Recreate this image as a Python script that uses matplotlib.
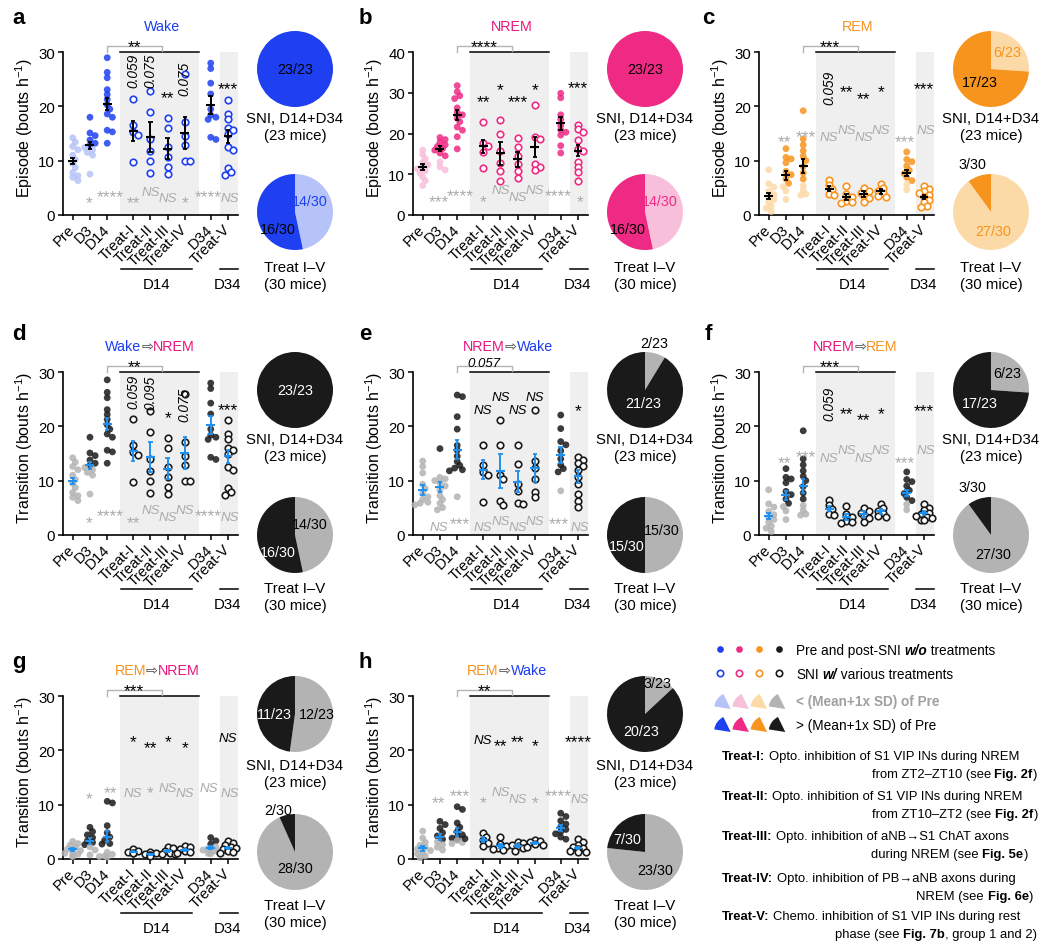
import numpy as np
import matplotlib
matplotlib.use("Agg")
import matplotlib.pyplot as plt
import matplotlib.transforms as mtransforms
from matplotlib.patches import Wedge

# ======================= DATA =======================
GROUPS = ["Pre", "D3", "D14", "Treat-I", "Treat-II", "Treat-III", "Treat-IV", "D34", "Treat-V"]
XPOS = [0, 1, 2, 3.5, 4.5, 5.5, 6.5, 8, 9]
TREAT_IDX = [3, 4, 5, 6, 8]

# a  Wake episodes
wake_pts = [[14.2, 13.4, 12.6, 12.0, 11.0, 10.2, 9.5, 8.7, 7.8, 7.2, 6.9, 6.3],
            [18.0, 15.1, 14.6, 13.8, 13.2, 12.8, 12.4, 12.0, 11.5, 11.0, 7.5],
            [29.0, 26.3, 25.3, 23.1, 22.2, 21.3, 20.3, 19.5, 18.6, 18.0, 15.6, 15.3, 13.2],
            [21.3, 16.5, 15.2, 14.8, 9.7],
            [22.8, 18.9, 14.0, 11.8, 10.0, 7.7],
            [17.8, 16.0, 12.5, 10.6, 8.9, 7.6],
            [25.9, 17.1, 14.6, 12.8, 10.0, 10.0],
            [28.0, 27.0, 24.3, 22.3, 19.5, 18.4, 18.0, 17.6, 14.3, 13.9],
            [21.2, 18.6, 17.6, 16.1, 15.6, 14.9, 12.5, 11.9, 8.7, 7.9, 7.3]]
wake_mean = [9.9, 12.8, 20.5, 15.5, 14.3, 12.2, 15.1, 20.3, 14.5]
wake_sem = [0.6, 0.7, 1.1, 1.8, 2.8, 2.0, 3.0, 1.7, 1.2]
wake_pie_sni = [0, 23]
wake_pie_treat = [14, 16]
wake_top = [None, None, None, "0.059", "0.075", "**", "0.075", None, "***"]
wake_bot = [None, "*", "****", "**", "NS", "NS", "*", "****", "NS"]
wake_bracket = "**"

# b  NREM episodes
nrem_pts = [[15.9, 14.8, 13.8, 12.9, 12.3, 11.8, 11.3, 10.8, 10.2, 9.3, 8.4, 7.2],
            [19.0, 18.5, 17.8, 17.2, 16.8, 16.3, 15.9, 15.2, 14.5, 13.0, 11.8, 11.0],
            [31.8, 30.3, 29.3, 28.6, 26.3, 25.2, 24.6, 23.8, 22.9, 21.6, 20.8, 19.2, 16.2],
            [22.8, 17.6, 16.8, 15.4, 11.5],
            [23.4, 19.9, 15.8, 12.7, 10.7, 8.4],
            [18.9, 16.6, 14.4, 12.6, 10.8, 9.0],
            [26.9, 19.2, 18.6, 12.4, 11.7, 11.1],
            [29.9, 28.8, 24.6, 23.5, 22.0, 20.9, 20.3, 19.6, 17.0, 15.2],
            [22.2, 21.1, 20.3, 18.4, 16.2, 15.6, 13.0, 11.7, 10.5, 8.4]]
nrem_mean = [11.7, 16.2, 24.6, 16.8, 15.1, 13.6, 16.7, 22.5, 15.8]
nrem_sem = [0.75, 0.6, 1.3, 1.6, 2.9, 1.9, 2.4, 1.6, 1.4]
nrem_pie_sni = [0, 23]
nrem_pie_treat = [14, 16]
nrem_top = [None, None, None, "**", "*", "***", "*", None, "***"]
nrem_bot = [None, "***", "****", "*", "NS", "NS", "NS", "****", "*"]
nrem_bracket = "****"

# c  REM episodes
rem_pts = [[8.3, 5.7, 5.1, 4.3, 3.7, 3.2, 2.8, 2.3, 1.6, 1.2, 0.6],
           [12.2, 10.6, 10.3, 9.6, 8.0, 7.4, 6.6, 5.8, 5.2, 4.4, 2.8],
           [19.2, 14.0, 12.9, 11.8, 10.8, 10.0, 8.9, 7.7, 6.6, 5.4, 4.5, 3.8, 3.6],
           [6.4, 5.4, 4.7, 3.8, 3.6],
           [5.3, 3.8, 3.2, 2.6, 2.3, 2.2],
           [4.9, 4.4, 4.1, 3.4, 3.0, 2.3],
           [5.7, 5.0, 4.4, 4.0, 3.5, 3.2],
           [11.6, 10.2, 9.8, 9.0, 8.2, 7.6, 6.9, 6.3, 5.6, 4.6],
           [5.3, 4.8, 4.3, 4.0, 3.7, 3.2, 2.8, 2.3, 1.6, 1.4]]
rem_mean = [3.5, 7.3, 9.0, 4.8, 3.3, 3.8, 4.3, 7.7, 3.3]
rem_sem = [0.6, 0.8, 1.3, 0.5, 0.5, 0.5, 0.4, 0.6, 0.4]
rem_pie_sni = [6, 17]
rem_pie_treat = [27, 3]
rem_top = [None, None, None, "0.059", "**", "**", "*", None, "***"]
rem_bot = [None, "**", "***", "NS", "NS", "NS", "NS", "***", "NS"]
rem_bracket = "***"

# d  Wake -> NREM transitions
w2n_pts = [[14.2, 13.4, 12.6, 12.0, 11.0, 10.2, 9.5, 8.7, 7.8, 7.2, 6.9, 6.3],
           [18.0, 15.1, 14.6, 13.8, 13.2, 12.8, 12.4, 12.0, 11.5, 11.0, 7.5],
           [28.6, 26.3, 25.3, 23.1, 22.2, 21.3, 20.3, 19.5, 18.6, 18.0, 15.6, 15.3, 13.2],
           [21.3, 16.5, 15.2, 14.8, 9.7],
           [22.8, 18.9, 14.0, 11.8, 10.0, 7.7],
           [17.8, 16.0, 12.5, 10.6, 8.9, 7.6],
           [25.9, 17.1, 14.6, 12.8, 10.0, 10.0],
           [28.0, 27.0, 24.3, 22.3, 19.5, 18.4, 18.0, 17.6, 14.3, 13.9],
           [21.2, 18.6, 17.6, 16.1, 15.6, 14.9, 12.5, 11.9, 8.7, 7.9, 7.3]]
w2n_mean = [9.9, 12.8, 20.5, 15.5, 14.3, 12.2, 15.1, 20.3, 14.5]
w2n_sem = [0.6, 0.7, 1.1, 1.8, 2.8, 2.0, 3.0, 1.7, 1.2]
w2n_pie_sni = [0, 23]
w2n_pie_treat = [14, 16]
w2n_top = [None, None, None, "0.059", "0.095", "*", "0.075", None, "***"]
w2n_bot = [None, "*", "****", "**", "NS", "NS", "NS", "****", "NS"]
w2n_bracket = "**"

# e  NREM -> Wake transitions
n2w_pts = [[13.6, 12.6, 11.4, 9.3, 8.5, 7.6, 7.0, 6.5, 6.0, 5.8, 5.5],
           [15.9, 10.6, 10.3, 10.0, 9.6, 9.0, 8.2, 7.2, 6.5, 5.8, 5.0, 4.6],
           [25.8, 25.5, 21.8, 19.5, 16.5, 15.6, 14.5, 13.5, 12.8, 12.3, 12.0, 11.8, 7.0],
           [16.5, 12.8, 11.5, 11.0, 6.0],
           [21.1, 16.6, 11.0, 10.2, 6.2, 5.5],
           [16.5, 13.1, 9.4, 8.1, 5.9, 5.6],
           [23.0, 13.6, 12.4, 10.2, 7.8, 6.9],
           [22.1, 19.6, 17.2, 16.6, 15.5, 14.0, 12.9, 12.2, 11.6, 8.1],
           [14.4, 13.8, 13.2, 12.6, 12.0, 10.6, 9.3, 7.6, 6.3, 5.2]]
n2w_mean = [8.3, 8.8, 15.7, 12.0, 11.8, 9.8, 12.3, 14.7, 10.8]
n2w_sem = [0.9, 0.9, 1.8, 1.8, 3.2, 2.0, 2.6, 1.5, 1.2]
n2w_pie_sni = [2, 21]
n2w_pie_treat = [15, 15]
n2w_top = [None, None, None, "NS", "NS", "NS", "NS", None, "*"]
n2w_bot = [None, "NS", "***", "NS", "NS", "NS", "NS", "***", "NS"]
n2w_bracket = "0.057"

# f  NREM -> REM transitions
n2r_pts = [[8.3, 5.7, 5.1, 4.3, 3.7, 3.2, 2.8, 2.3, 1.6, 1.2, 0.6],
           [12.2, 10.6, 10.3, 9.6, 8.0, 7.4, 6.6, 5.8, 5.2, 4.4, 2.8],
           [19.2, 14.0, 12.9, 11.8, 10.8, 10.0, 8.9, 7.7, 6.6, 5.4, 4.5, 3.8, 3.6],
           [6.4, 5.4, 4.7, 3.8, 3.6],
           [5.3, 3.8, 3.2, 2.6, 2.3, 2.2],
           [4.9, 4.4, 4.1, 3.4, 3.0, 2.3],
           [5.7, 5.0, 4.4, 4.0, 3.5, 3.2],
           [11.6, 10.2, 9.8, 9.0, 8.2, 7.6, 6.9, 6.3, 5.6, 4.6],
           [5.6, 5.0, 4.5, 4.1, 3.8, 3.5, 3.2, 3.0, 2.8, 2.7]]
n2r_mean = [3.5, 7.3, 9.0, 4.8, 3.3, 3.8, 4.3, 7.7, 4.0]
n2r_sem = [0.6, 0.8, 1.3, 0.5, 0.5, 0.5, 0.4, 0.6, 0.3]
n2r_pie_sni = [6, 17]
n2r_pie_treat = [27, 3]
n2r_top = [None, None, None, "0.059", "**", "**", "*", None, "***"]
n2r_bot = [None, "**", "***", "NS", "NS", "NS", "NS", "***", "NS"]
n2r_bracket = "***"

# g  REM -> NREM transitions
r2n_pts = [[3.2, 2.8, 2.5, 2.1, 1.8, 1.5, 1.2, 1.0, 0.8, 0.6, 0.4],
           [5.8, 5.0, 4.4, 3.9, 3.3, 3.0, 2.6, 2.2, 1.6, 0.7],
           [10.6, 10.3, 6.1, 4.8, 4.0, 3.4, 2.8, 2.7, 1.2, 0.8, 0.5, 0.4, 0.3],
           [1.7, 1.5, 1.3, 1.1, 1.0],
           [1.2, 1.0, 0.9, 0.7, 0.6, 0.5],
           [2.2, 1.9, 1.5, 1.1, 0.9, 0.8],
           [2.4, 2.1, 1.8, 1.4, 1.2, 1.0],
           [3.9, 3.3, 2.7, 2.2, 1.9, 1.6, 1.4, 1.2, 1.0, 0.9],
           [3.3, 2.9, 2.5, 2.2, 2.0, 1.8, 1.6, 1.4, 1.2, 1.0]]
r2n_mean = [1.7, 3.3, 4.1, 1.3, 0.8, 1.4, 1.6, 2.0, 2.0]
r2n_sem = [0.3, 0.5, 1.0, 0.15, 0.12, 0.25, 0.25, 0.3, 0.25]
r2n_pie_sni = [12, 11]
r2n_pie_treat = [28, 2]
r2n_top = [None, None, None, "*", "**", "*", "*", None, "NS"]
r2n_bot = [None, "*", "**", "NS", "*", "NS", "NS", "NS", "NS"]
r2n_bracket = "***"

# h  REM -> Wake transitions
r2w_pts = [[5.1, 3.8, 3.0, 2.5, 2.1, 1.8, 1.5, 1.2, 0.9, 0.5, 0.2],
           [6.9, 6.3, 5.6, 4.8, 4.2, 3.6, 3.1, 2.6, 2.1, 1.6],
           [9.6, 9.1, 6.6, 5.8, 5.0, 4.4, 4.0, 3.8, 3.6, 3.4, 3.0, 2.8, 3.7],
           [4.8, 4.1, 3.4, 2.9, 2.4],
           [4.0, 2.8, 2.3, 2.0, 1.7, 1.6],
           [3.1, 2.9, 2.6, 2.3, 1.9, 1.5],
           [3.4, 3.2, 3.0, 2.8, 2.5, 2.2],
           [8.4, 7.8, 7.0, 6.4, 5.9, 5.4, 5.0, 4.6, 4.0, 3.6],
           [3.6, 3.0, 2.5, 2.2, 2.0, 1.8, 1.7, 1.5, 1.3, 1.2]]
r2w_mean = [1.9, 4.0, 4.9, 3.5, 2.4, 2.4, 2.9, 5.7, 2.0]
r2w_sem = [0.4, 0.5, 0.7, 0.45, 0.4, 0.3, 0.2, 0.5, 0.25]
r2w_pie_sni = [3, 20]
r2w_pie_treat = [23, 7]
r2w_top = [None, None, None, "NS", "**", "**", "*", None, "****"]
r2w_bot = [None, "**", "***", "*", "NS", "NS", "*", "****", "NS"]
r2w_bracket = "**"

# ======================= STYLE / LAYOUT =======================
W, H = 1050, 953
FAM = ['Liberation Sans', 'DejaVu Sans']
plt.rcParams['font.family'] = FAM
plt.rcParams['mathtext.fontset'] = 'custom'
plt.rcParams['mathtext.rm'] = 'Liberation Sans'
plt.rcParams['mathtext.it'] = 'Liberation Sans:italic'
plt.rcParams['mathtext.bf'] = 'Liberation Sans:bold'

WAKE_D, WAKE_L, WAKE_T = '#1e40f0', '#b6c3f8', '#1a3cf5'
NREM_D, NREM_L, NREM_T = '#ee2a84', '#f8bfdb', '#e8177f'
REM_D, REM_L, REM_T = '#f7941d', '#fcdaa8', '#f7931e'
BLK_D, BLK_L = '#1a1a1a', '#b3b3b3'
EB_BLUE = '#2090ee'
SHADE = '#efefef'
GRAY_TXT = '#ababab'
ARROW_C = '#444444'

COLX = [0, 350, 696]
ROWY = [0, 320, 644]
AX_L, AX_T, AX_W, AX_H = 62.7, 53.3, 175.3, 162.4
XMIN, XMAX = -0.58, 9.58
PIE_X, PIE_R = 295, 38
FS_TICK, FS_YLAB, FS_CAP = 10.8, 11.5, 10.8

fig = plt.figure(figsize=(W / 100, H / 100), dpi=100)
renderer = fig.canvas.get_renderer()
ov = fig.add_axes([0, 0, 1, 1])
ov.set_xlim(0, W)
ov.set_ylim(H, 0)
ov.axis('off')
ov.set_zorder(20)


def add_ax_px(x, y, w, h):
    return fig.add_axes([x / W, 1 - (y + h) / H, w / W, h / H])


def text_w(s, **kw):
    t = ov.text(0, 0, s, **kw)
    w = t.get_window_extent(renderer).width
    t.remove()
    return w


def seq_text(x, y, pieces, ha='left', size=9.0):
    """pieces: list of (string, kwargs). y is visual centre (cap height) in px."""
    items = []
    for s, kw in pieces:
        st = s.rstrip(' ')
        ntr = len(s) - len(st)
        kk = dict(fontsize=size, family=FAM)
        kk.update(kw)
        w = text_w(st, **kk) if st else 0
        sp = text_w('a a', **kk) - text_w('aa', **kk) if ntr else 0
        items.append((st, kk, w, ntr * sp))
    total = sum(w + g for _, _, w, g in items)
    cur = x if ha == 'left' else (x - total if ha == 'right' else x - total / 2)
    base = y + 0.36 * size * 100 / 72
    for st, kk, w, g in items:
        ov.text(cur, base, st, ha='left', va='baseline', **kk)
        cur += w + g


def ann(ax, x, y, s, color='black', rot=False):
    stars = set(s) == {'*'}
    if rot:
        ax.text(x, y, s, rotation=90, ha='center', va='center', style='italic',
                fontsize=9.8, color=color, clip_on=False, zorder=6)
        return
    size = 12.5 if stars else 9.5
    k = 0.58 if stars else 0.36
    tr = mtransforms.offset_copy(ax.transData, fig=fig, x=0, y=-k * size, units='points')
    style = 'normal' if stars else 'italic'
    ax.text(x, y, s, transform=tr, ha='center', va='baseline', fontsize=size,
            style=style, color=color, clip_on=False, zorder=6)


def swarm(vals, ymax, d=6.2):
    ys = np.asarray(vals, float) * (AX_H / ymax)
    order = np.argsort(-ys)
    placed = []
    offs = np.zeros(len(ys))
    for i in order:
        best = 0.0
        for k in [0, 1, -1, 2, -2, 3, -3]:
            xo = k * d * 0.42
            if all((xo - px) ** 2 + (ys[i] - py) ** 2 >= (0.7 * d) ** 2 for px, py in placed):
                best = xo
                break
        placed.append((best, ys[i]))
        offs[i] = best
    return offs / (AX_W / (XMAX - XMIN))


def draw_panel(sp):
    ox, oy = sp['origin']
    ymax = sp['ymax']
    dark, light = sp['dark'], sp['light']
    ax = add_ax_px(ox + AX_L, oy + AX_T, AX_W, AX_H)
    ax.set_xlim(XMIN, XMAX)
    ax.set_ylim(0, ymax)
    ax.axvspan(2.75, 7.3, color=SHADE, lw=0, zorder=0)
    ax.axvspan(8.53, XMAX, color=SHADE, lw=0, zorder=0)
    for s in ['top', 'right']:
        ax.spines[s].set_visible(False)
    for s in ['left', 'bottom']:
        ax.spines[s].set_linewidth(1.2)
    ax.set_yticks(range(0, ymax + 1, 10))
    ax.set_xticks(XPOS)
    ax.set_xticklabels(GROUPS, rotation=45, ha='right', va='center', rotation_mode='anchor')
    ax.tick_params(axis='both', length=3.5, width=1.1, labelsize=FS_TICK)
    ax.tick_params(axis='x', pad=5)
    ax.tick_params(axis='y', pad=2)
    ax.patch.set_alpha(0)

    pts = sp['pts']
    pre = np.asarray(pts[0])
    thr = pre.mean() + pre.std(ddof=1)
    for gi, vals in enumerate(pts):
        xs = XPOS[gi] + swarm(vals, ymax)
        if gi in TREAT_IDX:
            ax.scatter(xs, vals, s=22, facecolor='white', edgecolor=dark, linewidth=1.2,
                       zorder=3, clip_on=False)
        else:
            if gi == 0:
                cols = [light] * len(vals)
            else:
                cols = [dark if v > thr else light for v in vals]
            ax.scatter(xs, vals, s=24, c=cols, alpha=0.85, linewidth=0, zorder=3, clip_on=False)
    ec = sp['ebar']
    for gi in range(len(pts)):
        x, m, s = XPOS[gi], sp['mean'][gi], sp['sem'][gi]
        ax.vlines(x, m - s, m + s, color=ec, lw=1.4, zorder=5)
        ax.hlines(m, x - 0.26, x + 0.26, color=ec, lw=1.5, zorder=5)
        ax.hlines([m - s, m + s], x - 0.13, x + 0.13, color=ec, lw=1.3, zorder=5)

    upp = ymax / AX_H
    ax.plot([2.75, 7.3], [ymax + 0.6 * upp] * 2, color='black', lw=1.1, clip_on=False, zorder=6)
    ax.plot([2, 2, 5.15, 5.15], [ymax + 0.3 * upp, ymax + 6 * upp, ymax + 6 * upp, ymax + 1.5 * upp],
            color='#b3b3b3', lw=1.0, clip_on=False, zorder=6)
    ann(ax, 3.57, ymax + 11.5 * upp, sp['bracket'])

    for gi, (lab, yy) in enumerate(zip(sp['top'], sp['top_y'])):
        if lab is None:
            continue
        ann(ax, XPOS[gi], yy, lab, rot=lab[0].isdigit())
    for gi, (lab, yy) in enumerate(zip(sp['bot'], sp['bot_y'])):
        if lab is None:
            continue
        dx = {1: -0.06, 2: 0.17, 7: -0.12, 8: 0.12}.get(gi, 0)
        ann(ax, XPOS[gi] + dx, yy, lab, color=GRAY_TXT)

    # y label, title, letter
    ov.text(ox + 24, oy + 128, sp['ylabel'], rotation=90, ha='center', va='center', fontsize=FS_YLAB)
    seq_text(ox + sp['title_x'], oy + 26, [(t, dict(color=c)) for t, c in sp['title']],
             ha='center', size=10.3)
    ov.text(ox + sp['letter_x'], oy + sp['letter_y'], sp['letter'], fontsize=16, fontweight='bold',
            ha='center', va='center')

    # group underlines
    def ux(u):
        return ox + AX_L + (u - XMIN) / (XMAX - XMIN) * AX_W
    ov.plot([ux(2.8), ux(6.9)], [oy + 270] * 2, color='black', lw=1.1, clip_on=False)
    ov.plot([ux(8.53), ux(9.56)], [oy + 270] * 2, color='black', lw=1.1, clip_on=False)
    seq_text(ux(4.85), oy + 284, [("D14", {})], ha='center', size=FS_CAP)
    seq_text(ux(9.0), oy + 284, [("D34", {})], ha='center', size=FS_CAP)

    # pies
    for counts, cy, labs, cap1, cap2, capy in [
            (sp['pie1'], sp['pie_y'][0], sp['pie_lab'][0], "SNI, D14+D34", "(23 mice)", sp['cap_y'][0]),
            (sp['pie2'], sp['pie_y'][1], sp['pie_lab'][1], "Treat I\u2013V", "(30 mice)", sp['cap_y'][1])]:
        pax = add_ax_px(ox + PIE_X - PIE_R, oy + cy - PIE_R, 2 * PIE_R, 2 * PIE_R)
        vals = [max(c, 1e-9) for c in counts]
        pax.pie(vals, colors=[light, dark], startangle=90, counterclock=False, radius=1,
                wedgeprops=dict(linewidth=0))
        pax.set_xlim(-1, 1)
        pax.set_ylim(-1, 1)
        pax.axis('off')
        tot = sum(counts)
        for idx, lx, ly, cc in labs:
            col = {'k': 'black', 'w': 'white', 'D': dark}[cc]
            pax.text(lx, ly, f"{counts[idx]}/{tot}", ha='center', va='center', fontsize=10.3,
                     color=col, clip_on=False)
        seq_text(ox + PIE_X, oy + capy, [(cap1, {})], ha='center', size=FS_CAP)
        seq_text(ox + PIE_X, oy + capy + 17, [(cap2, {})], ha='center', size=FS_CAP)


EP = "Episode (bouts h$^{-1}$)"
TR = "Transition (bouts h$^{-1}$)"
AR = '\u21e8'

specs = [
    dict(letter='a', origin=(COLX[0], ROWY[0]), ymax=30, pts=wake_pts, mean=wake_mean, sem=wake_sem,
         dark=WAKE_D, light=WAKE_L, ebar='black', title=[("Wake", WAKE_T)], ylabel=EP,
         top=wake_top, top_y=[None, None, None, 26.7, 26.8, 22.6, 25.2, None, 24.3],
         bot=wake_bot, bot_y=[None, 3.2, 4.3, 3.2, 4.6, 3.5, 3.2, 4.3, 3.5], bracket=wake_bracket,
         pie1=wake_pie_sni, pie2=wake_pie_treat,
         pie_lab=([(1, 0, 0, 'k')], [(0, 0.38, 0.3, 'D'), (1, -0.45, -0.45, 'k')])),
    dict(letter='b', origin=(COLX[1], ROWY[0]), ymax=40, pts=nrem_pts, mean=nrem_mean, sem=nrem_sem,
         dark=NREM_D, light=NREM_L, ebar='black', title=[("NREM", NREM_T)], ylabel=EP,
         top=nrem_top, top_y=[None, None, None, 29.3, 32.2, 29.3, 32.2, None, 32.6],
         bot=nrem_bot, bot_y=[None, 4.6, 6.0, 4.6, 6.6, 4.8, 6.6, 6.0, 4.6], bracket=nrem_bracket,
         pie1=nrem_pie_sni, pie2=nrem_pie_treat,
         pie_lab=([(1, 0, 0, 'k')], [(0, 0.38, 0.3, 'D'), (1, -0.45, -0.45, 'k')])),
    dict(letter='c', origin=(COLX[2], ROWY[0]), ymax=30, pts=rem_pts, mean=rem_mean, sem=rem_sem,
         dark=REM_D, light=REM_L, ebar='black', title=[("REM", REM_T)], ylabel=EP,
         top=rem_top, top_y=[None, None, None, 23.7, 23.7, 22.4, 23.7, None, 24.3],
         bot=rem_bot, bot_y=[None, 14.5, 15.5, 14.6, 16.0, 14.6, 16.0, 14.6, 16.0], bracket=rem_bracket,
         pie1=rem_pie_sni, pie2=rem_pie_treat,
         pie_lab=([(0, 0.42, 0.45, 'D'), (1, -0.3, -0.35, 'k')], [(1, -0.5, 1.27, 'k'), (0, 0.05, -0.5, 'D')])),
    dict(letter='d', origin=(COLX[0], ROWY[1]), ymax=30, pts=w2n_pts, mean=w2n_mean, sem=w2n_sem,
         dark=BLK_D, light=BLK_L, ebar=EB_BLUE, title=[("Wake", WAKE_T), (AR, ARROW_C), ("NREM", NREM_T)],
         ylabel=TR, top=w2n_top, top_y=[None, None, None, 26.6, 26.3, 22.6, 24.2, None, 24.2],
         bot=w2n_bot, bot_y=[None, 3.3, 4.5, 3.3, 4.8, 3.6, 4.8, 4.5, 3.6], bracket=w2n_bracket,
         pie1=w2n_pie_sni, pie2=w2n_pie_treat,
         pie_lab=([(1, 0, 0, 'w')], [(0, 0.38, 0.3, 'k'), (1, -0.45, -0.45, 'w')])),
    dict(letter='e', origin=(COLX[1], ROWY[1]), ymax=30, pts=n2w_pts, mean=n2w_mean, sem=n2w_sem,
         dark=BLK_D, light=BLK_L, ebar=EB_BLUE, title=[("NREM", NREM_T), (AR, ARROW_C), ("Wake", WAKE_T)],
         ylabel=TR, top=n2w_top, top_y=[None, None, None, 23.3, 25.8, 23.3, 25.8, None, 23.9],
         bot=n2w_bot, bot_y=[None, 1.8, 3.1, 1.8, 2.9, 1.8, 2.9, 3.1, 1.8], bracket=n2w_bracket,
         pie1=n2w_pie_sni, pie2=n2w_pie_treat,
         pie_lab=([(0, 0.25, 1.24, 'k'), (1, -0.05, -0.35, 'w')], [(0, 0.45, 0.12, 'k'), (1, -0.47, -0.3, 'w')])),
    dict(letter='f', origin=(COLX[2], ROWY[1]), ymax=30, pts=n2r_pts, mean=n2r_mean, sem=n2r_sem,
         dark=BLK_D, light=BLK_L, ebar=EB_BLUE, title=[("NREM", NREM_T), (AR, ARROW_C), ("REM", REM_T)],
         ylabel=TR, top=n2r_top, top_y=[None, None, None, 24.3, 23.4, 22.3, 23.4, None, 24.0],
         bot=n2r_bot, bot_y=[None, 14.3, 15.4, 14.4, 15.9, 14.4, 15.9, 14.4, 15.9], bracket=n2r_bracket,
         pie1=n2r_pie_sni, pie2=n2r_pie_treat,
         pie_lab=([(0, 0.42, 0.45, 'k'), (1, -0.3, -0.35, 'w')], [(1, -0.5, 1.27, 'k'), (0, 0.05, -0.5, 'k')])),
    dict(letter='g', origin=(COLX[0], ROWY[2]), ymax=30, pts=r2n_pts, mean=r2n_mean, sem=r2n_sem,
         dark=BLK_D, light=BLK_L, ebar=EB_BLUE, title=[("REM", REM_T), (AR, ARROW_C), ("NREM", NREM_T)],
         ylabel=TR, top=r2n_top, top_y=[None, None, None, 22.6, 21.6, 22.6, 21.6, None, 22.7],
         bot=r2n_bot, bot_y=[None, 12.1, 13.3, 12.4, 13.3, 13.4, 12.4, 13.4, 12.4], bracket=r2n_bracket,
         pie1=r2n_pie_sni, pie2=r2n_pie_treat,
         pie_lab=([(1, -0.55, 0.0, 'w'), (0, 0.58, 0.0, 'k')], [(1, -0.45, 1.1, 'k'), (0, 0.0, -0.42, 'k')])),
    dict(letter='h', origin=(COLX[1], ROWY[2]), ymax=30, pts=r2w_pts, mean=r2w_mean, sem=r2w_sem,
         dark=BLK_D, light=BLK_L, ebar=EB_BLUE, title=[("REM", REM_T), (AR, ARROW_C), ("Wake", WAKE_T)],
         ylabel=TR, top=r2w_top, top_y=[None, None, None, 22.3, 22.0, 22.6, 22.0, None, 22.6],
         bot=r2w_bot, bot_y=[None, 11.4, 12.6, 11.4, 12.7, 11.4, 11.4, 12.6, 11.4], bracket=r2w_bracket,
         pie1=r2w_pie_sni, pie2=r2w_pie_treat,
         pie_lab=([(0, 0.32, 0.82, 'k'), (1, -0.1, -0.45, 'w')], [(1, -0.47, 0.35, 'w'), (0, 0.26, -0.48, 'k')])),
]
TITLE_X = {'a': 162, 'b': 162, 'c': 162, 'd': 150, 'e': 158, 'f': 159, 'g': 157, 'h': 157}
LETTER_XY = {'a': (19, 19), 'b': (15, 19), 'c': (12, 19), 'd': (19, 15), 'e': (15, 15), 'f': (12, 15),
             'g': (19, 19), 'h': (15, 19)}
PIE_Y = [(70, 213), (71, 216), (71, 209)]
CAP_Y = [(118, 267), (119, 268), (121, 261)]
for sp in specs:
    r = ROWY.index(sp['origin'][1])
    sp['title_x'] = TITLE_X[sp['letter']]
    sp['letter_x'], sp['letter_y'] = LETTER_XY[sp['letter']]
    sp['pie_y'] = PIE_Y[r]
    sp['cap_y'] = CAP_Y[r]
    draw_panel(sp)

# ======================= LEGEND =======================
LX = [719.5, 739.2, 758.8, 778.5]
LEG_D = [WAKE_D, NREM_D, REM_D, BLK_D]
LEG_L = [WAKE_L, NREM_L, REM_L, BLK_L]
for x, c in zip(LX, LEG_D):
    ov.plot(x, 650, 'o', ms=4.8, color=c, mew=0, clip_on=False)
    ov.plot(x, 674, 'o', ms=4.6, mfc='white', mec=c, mew=1.2, clip_on=False)
seq_text(796, 650, [("Pre and post-SNI ", {}), ("w/o", dict(fontweight='bold', style='italic')),
                    (" treatments", {})], size=9.8)
seq_text(796, 674, [("SNI ", {}), ("w/", dict(fontweight='bold', style='italic')),
                    (" various treatments", {})], size=9.8)
for i in range(4):
    tx = 730.7 + 18.2 * i
    ov.add_patch(Wedge((tx, 710), 16.7, -171, -116, color=LEG_L[i], lw=0, clip_on=False))
    ov.add_patch(Wedge((tx, 733), 16.7, -171, -116, color=LEG_D[i], lw=0, clip_on=False))
seq_text(796, 701, [("< (Mean+1x SD) of Pre", dict(color='#a0a0a0', fontweight='bold'))], size=9.8)
seq_text(796, 725, [("> (Mean+1x SD) of Pre", {})], size=9.8)

B = dict(fontweight='bold')
treat_lines = [
    ([("Treat-I: ", B), ("Opto. inhibition of S1 VIP INs during NREM", {})],
     [("from ZT2\u2013ZT10 (see ", {}), ("Fig. 2f", B), (")", {})], 1037),
    ([("Treat-II: ", B), ("Opto. inhibition of S1 VIP INs during NREM", {})],
     [("from ZT10\u2013ZT2 (see ", {}), ("Fig. 2f", B), (")", {})], 1038),
    ([("Treat-III: ", B), ("Opto. inhibition of aNB\u2192S1 ChAT axons", {})],
     [("during NREM (see ", {}), ("Fig. 5e", B), (")", {})], 1028),
    ([("Treat-IV: ", B), ("Opto. inhibition of PB\u2192aNB axons during", {})],
     [("NREM (see ", {}), ("Fig. 6e", B), (")", {})], 1033),
    ([("Treat-V: ", B), ("Chemo. inhibition of S1 VIP INs during rest", {})],
     [("phase (see ", {}), ("Fig. 7b", B), (", group 1 and 2)", {})], 1037),
]
TL_Y = [(755, 773), (795, 813), (835, 853), (877, 895), (915, 933)]
for (l1, l2, rx), (y1, y2) in zip(treat_lines, TL_Y):
    seq_text(722, y1, l1, size=9.4)
    seq_text(rx, y2, l2, ha='right', size=9.4)

fig.savefig('out.png', dpi=100)
